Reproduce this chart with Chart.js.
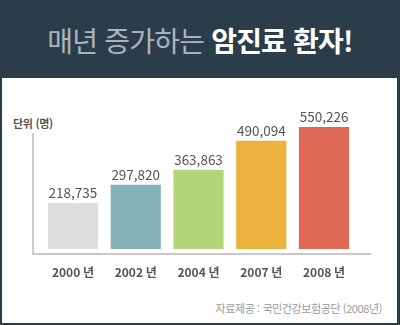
<!DOCTYPE html>
<html lang="ko">
<head>
<meta charset="utf-8">
<script src="https://cdn.jsdelivr.net/npm/chart.js@4"></script>
<style>
    html, body {
        margin: 0;
        padding: 0;
    }
    body {
        width: 400px;
        height: 325px;
        background: #2c3d4a;
        position: relative;
        overflow: hidden;
        font-family: "Noto Sans CJK KR", "Noto Sans", sans-serif;
    }
    #title {
        position: absolute;
        left: 0;
        top: 0;
        width: 400px;
        height: 78px;
        line-height: 80px;
        text-align: center;
        font-size: 28px;
        letter-spacing: -0.8px;
        color: #a8b5c0;
    }
    #title b {
        color: #ffffff;
        font-weight: 700;
    }
    #panel {
        position: absolute;
        left: 2px;
        top: 78px;
        width: 395px;
        height: 245px;
        background: #ffffff;
    }
    #unit {
        position: absolute;
        left: 13px;
        top: 115px;
        font-size: 11px;
        font-weight: 700;
        color: #555555;
        letter-spacing: -0.3px;
    }
    #source {
        position: absolute;
        right: 18px;
        top: 300px;
        font-size: 11px;
        color: #9a9a9a;
        letter-spacing: -0.4px;
    }
    #chart {
        position: absolute;
        left: 0;
        top: 78px;
    }
</style>
</head>
<body>
<div id="title">매년 증가하는 <b>암진료 환자!</b></div>
<div id="panel"></div>
<div id="unit">단위 (명)</div>
<div id="source">자료제공 : 국민건강보험공단 (2008년)</div>
<canvas id="chart" width="400" height="230"></canvas>

<script>
const years = ["2000 년", "2002 년", "2004 년", "2007 년", "2008 년"];
const patients = [218735, 297820, 363863, 490094, 550226];
const barColors = ["#dedede", "#84b2b7", "#b4d67a", "#ebb33d", "#df6857"];

// L-shaped axis drawn a little away from the bars
const axisLines = {
    id: "axisLines",
    beforeDatasetsDraw(chart) {
        const { ctx, chartArea } = chart;
        const left = chartArea.left - 8.5;
        const bottom = chartArea.bottom + 5;
        ctx.save();
        ctx.strokeStyle = "#c8c8c8";
        ctx.lineWidth = 2;
        ctx.beginPath();
        ctx.moveTo(left, chartArea.top + 29);
        ctx.lineTo(left, bottom);
        ctx.lineTo(chartArea.right + 16, bottom);
        ctx.stroke();
        ctx.restore();
    },
};

// value on top of each bar
const barValues = {
    id: "barValues",
    afterDatasetsDraw(chart) {
        const { ctx } = chart;
        const meta = chart.getDatasetMeta(0);
        ctx.save();
        ctx.font = "13.5px 'Noto Sans CJK KR', 'Noto Sans', sans-serif";
        ctx.fillStyle = "#555555";
        ctx.textAlign = "center";
        ctx.textBaseline = "bottom";
        meta.data.forEach((bar, i) => {
            const value = chart.data.datasets[0].data[i];
            ctx.fillText(value.toLocaleString("en-US"), bar.x, bar.y - 3);
        });
        ctx.restore();
    },
};

function createPatientChart() {
    const ctx = document.getElementById("chart").getContext("2d");
    new Chart(ctx, {
        type: "bar",
        data: {
            labels: years,
            datasets: [
                {
                    data: patients,
                    backgroundColor: barColors,
                    borderWidth: 0,
                    barPercentage: 0.8,
                    categoryPercentage: 1,
                },
            ],
        },
        options: {
            responsive: false,
            animation: false,
            layout: {
                padding: { left: 41.6, right: 44.6, top: 26, bottom: 12.6 },
            },
            plugins: {
                legend: { display: false },
                tooltip: { enabled: false },
            },
            scales: {
                x: {
                    grid: { display: false, drawTicks: false },
                    border: { display: false },
                    ticks: {
                        color: "#555555",
                        padding: 16,
                        font: {
                            family: "'Noto Sans CJK KR', 'Noto Sans', sans-serif",
                            size: 12,
                            weight: "bold",
                        },
                    },
                },
                y: {
                    display: false,
                    min: 18000,
                    max: 650000,
                },
            },
        },
        plugins: [axisLines, barValues],
    });
}

createPatientChart();
</script>
</body>
</html>
